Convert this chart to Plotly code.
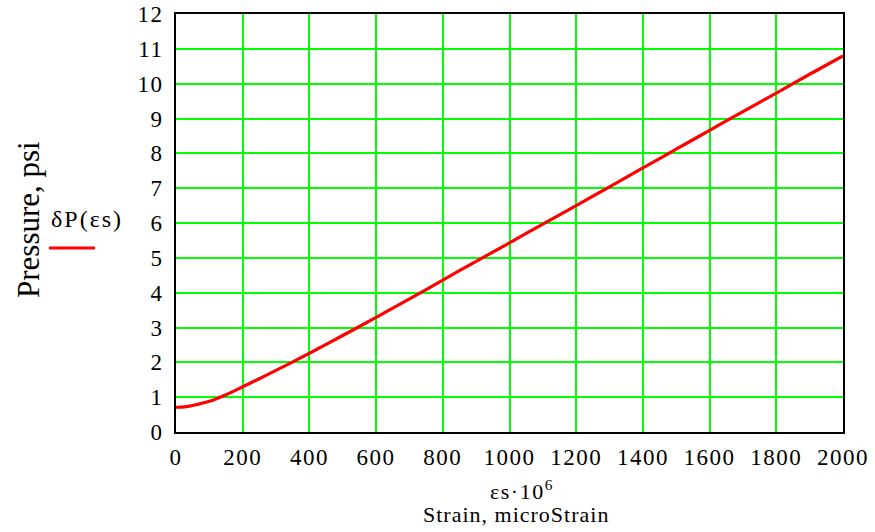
import plotly.graph_objects as go

# Data
strain = [0, 25, 50, 100, 150, 200, 250, 300, 400, 500, 600, 700, 800, 900, 1000,
          1100, 1200, 1300, 1400, 1500, 1600, 1700, 1800, 1900, 2000]
pressure = [0.71, 0.72, 0.76, 0.88, 1.07, 1.30, 1.53, 1.77, 2.26, 2.77, 3.29, 3.82, 4.36,
            4.90, 5.43, 5.97, 6.50, 7.04, 7.58, 8.12, 8.66, 9.20, 9.73, 10.27, 10.80]

x_ticks = list(range(0, 2001, 200))
y_ticks = list(range(0, 13))

W, H = 875, 532
L, R, T, B = 176, 32, 14, 100
PW, PH = W - L - R, H - T - B

def px(x):
    return (x - L) / PW

def py(y):
    return (H - B - y) / PH

def spaced(s, sp):
    return f'<span style="letter-spacing:{sp}px">{s}</span>'

FONT = "Liberation Serif, Times New Roman, Times, serif"

fig = go.Figure()
fig.add_trace(go.Scatter(x=strain, y=pressure, mode="lines",
                         line=dict(color="#FF0000", width=3.2, shape="spline", smoothing=0.8),
                         showlegend=False, hoverinfo="skip"))

axis_common = dict(showgrid=True, gridcolor="#00FF00", gridwidth=1.5,
                   showline=True, linecolor="black", linewidth=2, mirror=True,
                   zeroline=False, ticks="", automargin=False,
                   tickfont=dict(family=FONT, size=23, color="black"))

fig.update_xaxes(range=[0, 2000], tickvals=x_ticks,
                 ticktext=[spaced(str(v), 1.5) for v in x_ticks], ticklabelstandoff=3,
                 **axis_common)
fig.update_yaxes(range=[0, 12], tickvals=y_ticks,
                 ticktext=[spaced(str(v), 1.5) for v in y_ticks], ticklabelstandoff=6,
                 **axis_common)

annotations = [
    dict(text="Pressure, psi", textangle=-90, x=px(28), y=py(220),
         xref="paper", yref="paper", xanchor="center", yanchor="middle",
         showarrow=False, font=dict(family=FONT, size=31, color="black")),
    dict(text=spaced("δP(εs)", 2), x=px(49), y=py(219), xref="paper", yref="paper",
         xanchor="left", yanchor="middle", showarrow=False,
         font=dict(family=FONT, size=24, color="black")),
    dict(text=spaced("εs·10", 1.5) + "<sup>6</sup>", x=px(521), y=py(490), xref="paper", yref="paper",
         xanchor="center", yanchor="middle", showarrow=False,
         font=dict(family=FONT, size=22, color="black")),
    dict(text=spaced("Strain, microStrain", 1), x=px(516), y=py(514), xref="paper", yref="paper",
         xanchor="center", yanchor="middle", showarrow=False,
         font=dict(family=FONT, size=22, color="black")),
]

shapes = [
    dict(type="line", xref="paper", yref="paper", x0=px(49), x1=px(95),
         y0=py(248), y1=py(248), line=dict(color="#FF0000", width=3)),
]

fig.update_layout(width=W, height=H, margin=dict(l=L, r=R, t=T, b=B),
                  plot_bgcolor="white", paper_bgcolor="white",
                  annotations=annotations, shapes=shapes, showlegend=False)

fig.write_html("out.html")
